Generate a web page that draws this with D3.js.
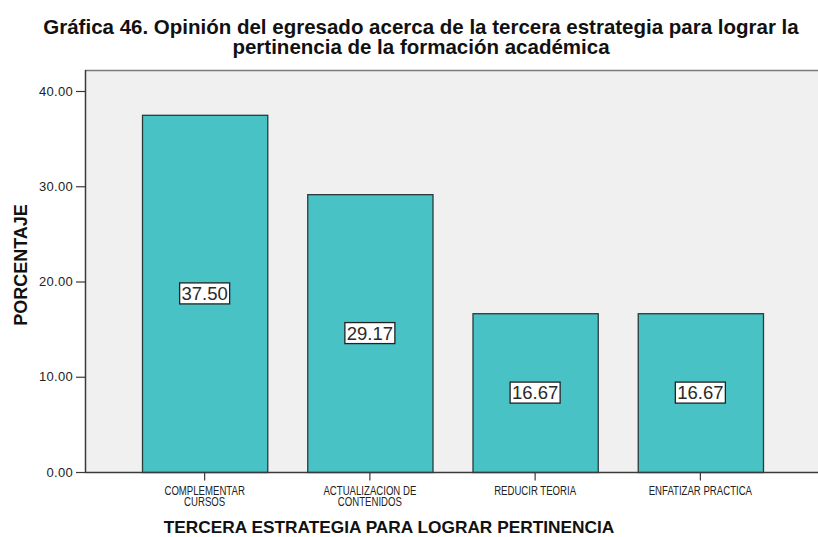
<!DOCTYPE html>
<html>
<head>
<meta charset="utf-8">
<script src="https://cdn.jsdelivr.net/npm/d3@7"></script>
<style>
  html, body { margin: 0; padding: 0; background: #ffffff; }
  svg { display: block; font-family: "Liberation Sans", Arial, sans-serif; }
</style>
</head>
<body>
<svg id="chart" width="818" height="537"></svg>
<script>
// Data
const categories = [
  ["COMPLEMENTAR", "CURSOS"],
  ["ACTUALIZACION DE", "CONTENIDOS"],
  ["REDUCIR TEORIA"],
  ["ENFATIZAR PRACTICA"]
];
const values = [37.50, 29.17, 16.67, 16.67];
const valueLabels = ["37.50", "29.17", "16.67", "16.67"];
const yTicks = [0, 10, 20, 30, 40];
const titleLines = [
  "Gráfica 46. Opinión del egresado acerca de la tercera estrategia para lograr la",
  "pertinencia de la formación académica"
];
const yTitle = "PORCENTAJE";
const xTitle = "TERCERA ESTRATEGIA PARA LOGRAR PERTINENCIA";

const svg = d3.select("#chart");
const plot = { left: 85, top: 70, right: 818, bottom: 472 };

const x = d3.scaleBand()
  .domain(d3.range(categories.length))
  .range([plot.left, 820])
  .paddingInner(0.242)
  .paddingOuter(0.345);

const y = d3.scaleLinear().domain([0, 40]).range([472, 91]);

// Squeeze a text element horizontally to a fraction of its natural width
function condense(sel, f) {
  sel.each(function () {
    const w = this.getComputedTextLength();
    d3.select(this).attr("textLength", w * f).attr("lengthAdjust", "spacingAndGlyphs");
  });
}

// Plot background
svg.append("rect")
  .attr("x", plot.left).attr("y", plot.top)
  .attr("width", plot.right - plot.left).attr("height", plot.bottom - plot.top)
  .attr("fill", "#f0f0f0");

// Top frame line
svg.append("line")
  .attr("x1", plot.left).attr("x2", plot.right)
  .attr("y1", plot.top + 0.5).attr("y2", plot.top + 0.5)
  .attr("stroke", "#7a7a7a").attr("stroke-width", 1.5);

// Bars
svg.append("g").selectAll("rect")
  .data(values)
  .join("rect")
  .attr("x", (d, i) => x(i) + 0.5)
  .attr("y", d => y(d) + 0.5)
  .attr("width", x.bandwidth())
  .attr("height", d => y(0) - y(d))
  .attr("fill", "#48c2c5")
  .attr("stroke", "#2b3a3b")
  .attr("stroke-width", 1.3);

// Y axis
const yAxis = d3.axisLeft(y)
  .tickValues(yTicks)
  .tickFormat(d3.format(".2f"))
  .tickSize(9)
  .tickPadding(3);
const gy = svg.append("g")
  .attr("transform", `translate(${plot.left},0)`)
  .call(yAxis);
gy.select(".domain")
  .attr("d", `M0.5,${plot.top}V${y(0) + 0.5}`)
  .attr("stroke", "#3a3a3a").attr("stroke-width", 1.5);
gy.selectAll(".tick line").attr("stroke", "#3a3a3a").attr("stroke-width", 1.2);
gy.selectAll(".tick text")
  .attr("fill", "#222").attr("font-size", 13)
  .attr("font-family", "'Liberation Sans', Arial, sans-serif")
  .attr("letter-spacing", 0.3);

// X axis
const xAxis = d3.axisBottom(x).tickSize(8).tickFormat(() => "");
const gx = svg.append("g")
  .attr("transform", `translate(0,${y(0) + 0.5})`)
  .call(xAxis);
gx.select(".domain")
  .attr("d", `M${plot.left},0H${plot.right}`)
  .attr("stroke", "#3a3a3a").attr("stroke-width", 1.5);
gx.selectAll(".tick line").attr("stroke", "#3a3a3a").attr("stroke-width", 1.2);

// Category labels (one or two lines each)
const catG = svg.append("g");
categories.forEach((lines, i) => {
  lines.forEach((ln, j) => {
    catG.append("text")
      .attr("x", x(i) + x.bandwidth() / 2)
      .attr("y", 495 + j * 11)
      .attr("text-anchor", "middle")
      .attr("font-size", 12)
      .attr("fill", "#222")
      .text(ln);
  });
});
condense(catG.selectAll("text"), 0.8);

// Value labels boxed at the middle of each bar
const lab = svg.append("g").selectAll("g")
  .data(values)
  .join("g")
  .attr("transform", (d, i) => `translate(${x(i) + x.bandwidth() / 2},${(y(d) + y(0)) / 2})`);
lab.append("rect")
  .attr("x", -25).attr("y", -10.5)
  .attr("width", 50).attr("height", 21)
  .attr("fill", "#ffffff")
  .attr("stroke", "#222").attr("stroke-width", 1.3);
lab.append("text")
  .attr("text-anchor", "middle")
  .attr("dy", "0.36em")
  .attr("font-size", 18.5)
  .attr("fill", "#2a2a2a")
  .text((d, i) => valueLabels[i]);

// Title, two centred lines
titleLines.forEach((ln, i) => {
  svg.append("text")
    .attr("x", 421).attr("y", 34 + i * 20)
    .attr("text-anchor", "middle")
    .attr("font-size", 20.5).attr("font-weight", "bold").attr("fill", "#111")
    .text(ln);
});

// Axis titles
svg.append("text")
  .attr("transform", `translate(27,265) rotate(-90)`)
  .attr("text-anchor", "middle")
  .attr("font-size", 18).attr("font-weight", "bold").attr("fill", "#111")
  .text(yTitle);
svg.append("text")
  .attr("x", 389).attr("y", 533)
  .attr("text-anchor", "middle")
  .attr("font-size", 17.3).attr("font-weight", "bold").attr("fill", "#111")
  .text(xTitle);
</script>
</body>
</html>
